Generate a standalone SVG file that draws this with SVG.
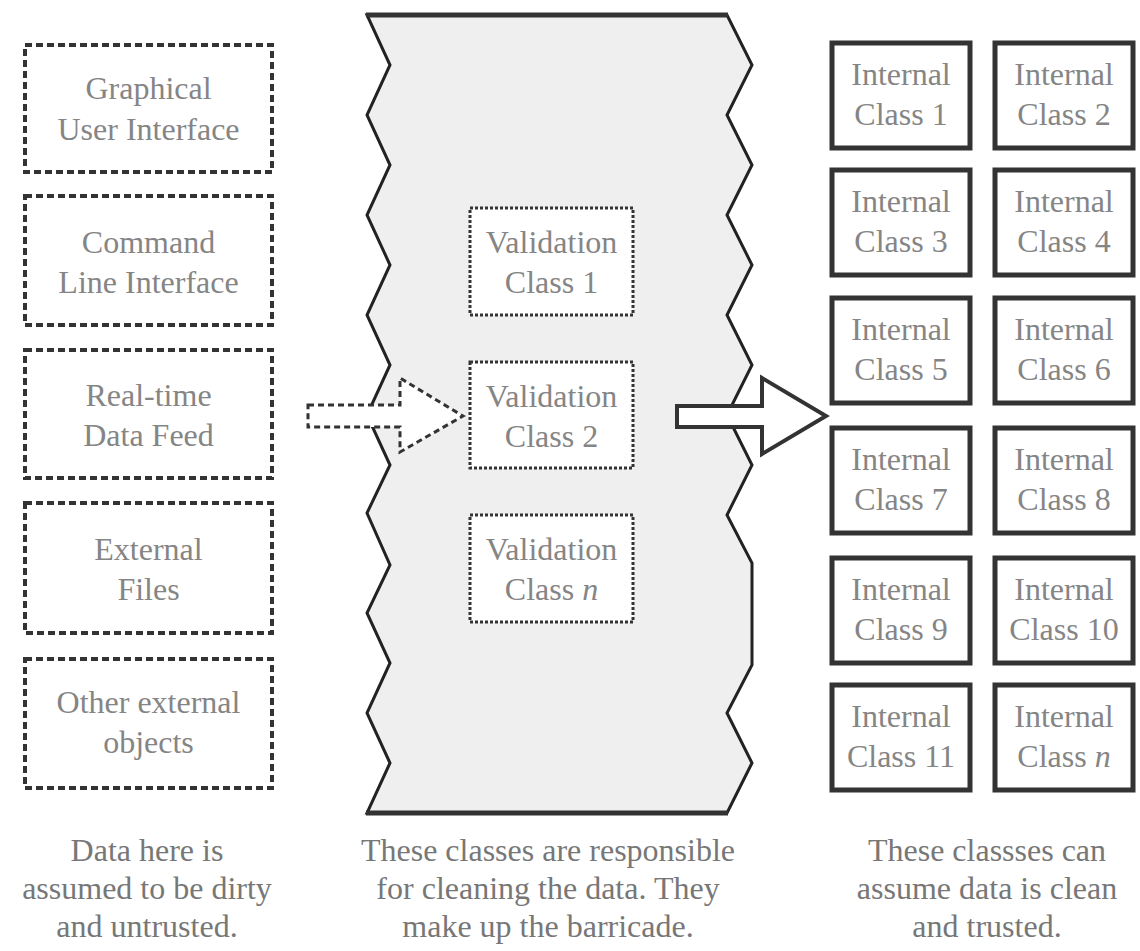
<svg xmlns="http://www.w3.org/2000/svg" width="1140" height="951" viewBox="0 0 1140 951">
<style>
text{font-family:"Liberation Serif","Times New Roman",serif;font-size:32px;fill:#858585;text-anchor:middle}
.cap{fill:#777}
.ext{fill:#fff;stroke:#333;stroke-width:4;stroke-dasharray:7 4}
.val{fill:#fff;stroke:#333;stroke-width:3;stroke-dasharray:3 2}
.int{fill:#fff;stroke:#333;stroke-width:5}
.it{font-style:italic}
</style>
<rect width="1140" height="951" fill="#fff"/>
<g id="barricade">
<polygon points="367,15 727,15 752,65 727,115 752,165 727,215 752,265 727,315 752,365 727,415 752,465 727,515 752,563 752,665 727,713 752,763 727,813 367,813 390,763 367,713 390,663 367,613 390,565 367,513 390,465 367,415 390,365 367,315 390,265 367,215 390,165 367,115 390,65" fill="#efefef" stroke="#222" stroke-width="3" stroke-linejoin="miter"/>
<line x1="366" y1="15" x2="728" y2="15" stroke="#333" stroke-width="5"/>
<line x1="366" y1="813" x2="728" y2="813" stroke="#333" stroke-width="5"/>
</g>
<g id="ext1"><rect class="ext" x="25" y="45" width="247" height="127"/><text x="148.5" y="99">Graphical</text><text x="148.5" y="140">User Interface</text></g>
<g id="ext2"><rect class="ext" x="25" y="196" width="247" height="129"/><text x="148.5" y="253">Command</text><text x="148.5" y="293">Line Interface</text></g>
<g id="ext3"><rect class="ext" x="25" y="350" width="247" height="128"/><text x="148.5" y="406">Real-time</text><text x="148.5" y="446">Data Feed</text></g>
<g id="ext4"><rect class="ext" x="25" y="503" width="247" height="130"/><text x="148.5" y="560">External</text><text x="148.5" y="600">Files</text></g>
<g id="ext5"><rect class="ext" x="25" y="659" width="247" height="129"/><text x="148.5" y="713">Other external</text><text x="148.5" y="753">objects</text></g>
<g id="val1"><rect class="val" x="470" y="208" width="163" height="107"/><text x="551.5" y="253">Validation</text><text x="551.5" y="293">Class 1</text></g>
<g id="val2"><rect class="val" x="470" y="362" width="163" height="106"/><text x="551.5" y="407">Validation</text><text x="551.5" y="447">Class 2</text></g>
<g id="valn"><rect class="val" x="470" y="515" width="163" height="107"/><text x="551.5" y="560">Validation</text><text x="551.5" y="600">Class <tspan class="it">n</tspan></text></g>
<g id="int1"><rect class="int" x="832" y="43" width="138" height="105"/><text x="901" y="85">Internal</text><text x="901" y="125">Class 1</text></g>
<g id="int2"><rect class="int" x="995" y="43" width="138" height="105"/><text x="1064" y="85">Internal</text><text x="1064" y="125">Class 2</text></g>
<g id="int3"><rect class="int" x="832" y="170" width="138" height="105"/><text x="901" y="212">Internal</text><text x="901" y="252">Class 3</text></g>
<g id="int4"><rect class="int" x="995" y="170" width="138" height="105"/><text x="1064" y="212">Internal</text><text x="1064" y="252">Class 4</text></g>
<g id="int5"><rect class="int" x="832" y="298" width="138" height="105"/><text x="901" y="340">Internal</text><text x="901" y="380">Class 5</text></g>
<g id="int6"><rect class="int" x="995" y="298" width="138" height="105"/><text x="1064" y="340">Internal</text><text x="1064" y="380">Class 6</text></g>
<g id="int7"><rect class="int" x="832" y="428" width="138" height="105"/><text x="901" y="470">Internal</text><text x="901" y="510">Class 7</text></g>
<g id="int8"><rect class="int" x="995" y="428" width="138" height="105"/><text x="1064" y="470">Internal</text><text x="1064" y="510">Class 8</text></g>
<g id="int9"><rect class="int" x="832" y="558" width="138" height="105"/><text x="901" y="600">Internal</text><text x="901" y="640">Class 9</text></g>
<g id="int10"><rect class="int" x="995" y="558" width="138" height="105"/><text x="1064" y="600">Internal</text><text x="1064" y="640">Class 10</text></g>
<g id="int11"><rect class="int" x="832" y="685" width="138" height="105"/><text x="901" y="727">Internal</text><text x="901" y="767">Class 11</text></g>
<g id="intn"><rect class="int" x="995" y="685" width="138" height="105"/><text x="1064" y="727">Internal</text><text x="1064" y="767">Class <tspan class="it">n</tspan></text></g>
<g id="connectors">
<polygon points="308,405 400,405 400,378 463,416 400,452 400,427 308,427" fill="#fff" stroke="#333" stroke-width="3" stroke-dasharray="6 4"/>
<polygon points="677,406 762,406 762,378 826,416 762,454 762,427 677,427" fill="#fff" stroke="#333" stroke-width="4" stroke-linejoin="miter"/>
</g>
<g id="captions">
<text class="cap" x="147" y="861">Data here is</text>
<text class="cap" x="147" y="899">assumed to be dirty</text>
<text class="cap" x="147" y="937">and untrusted.</text>
<text class="cap" x="548" y="861">These classes are responsible</text>
<text class="cap" x="548" y="899">for cleaning the data. They</text>
<text class="cap" x="548" y="937">make up the barricade.</text>
<text class="cap" x="987" y="861">These classses can</text>
<text class="cap" x="987" y="899">assume data is clean</text>
<text class="cap" x="987" y="937">and trusted.</text>
</g>
</svg>
